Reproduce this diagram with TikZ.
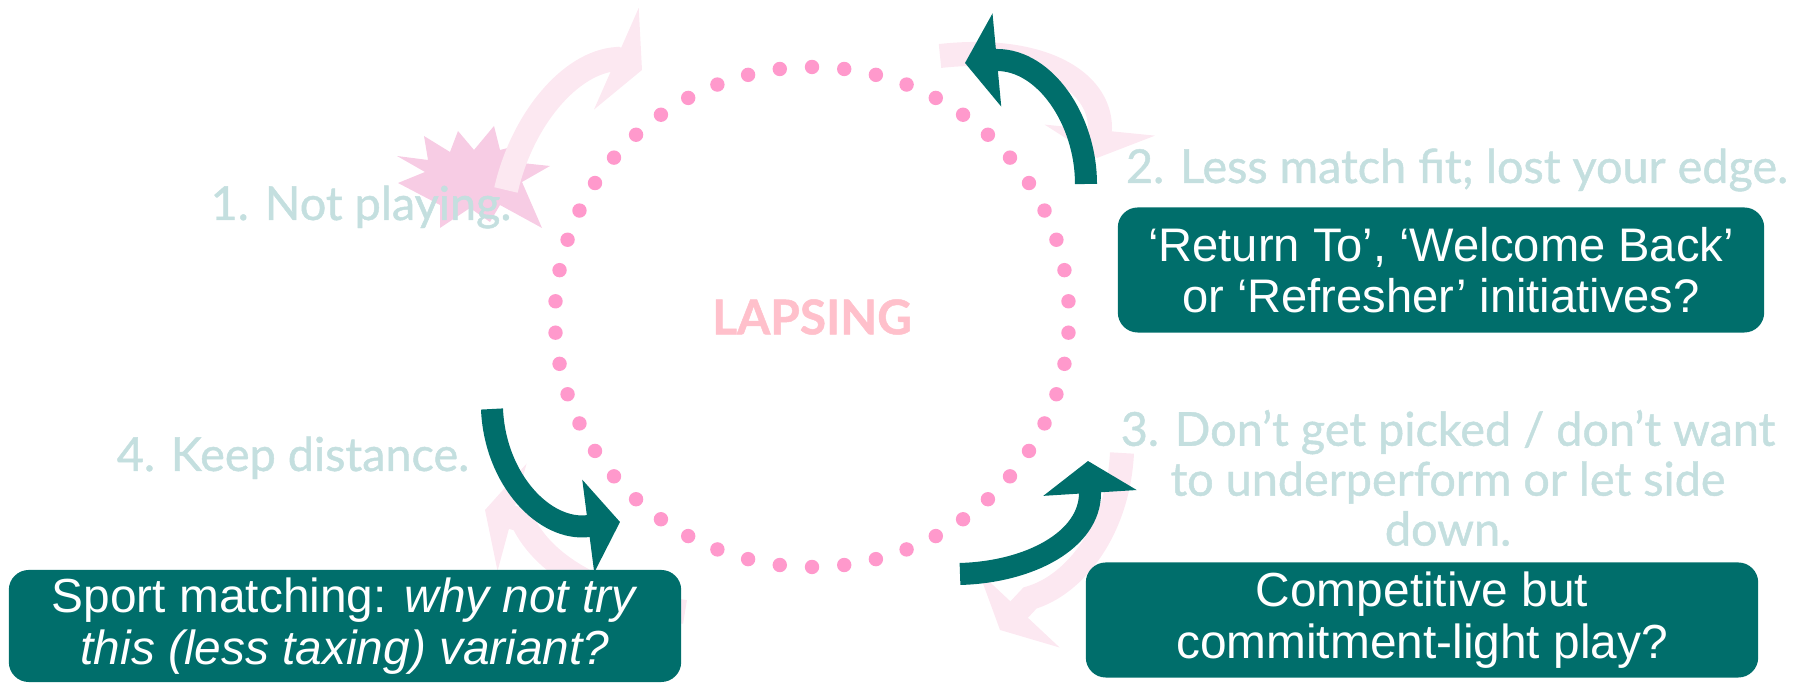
\documentclass[tikz,border=0pt]{standalone}
\usepackage{fontspec}
\setmainfont{Liberation Sans}
\newfontfamily\stagefont[FakeBold=1]{Lato}
\usetikzlibrary{arrows.meta}
\definecolor{lapseteal}{RGB}{0,110,107}
\definecolor{dotpink}{RGB}{255,153,204}
\definecolor{burstpink}{RGB}{247,204,228}
\definecolor{ghostpink}{RGB}{252,232,241}
\definecolor{stagegray}{RGB}{196,223,223}
\definecolor{lapsepink}{RGB}{255,192,203}
\begin{document}
\begin{tikzpicture}[x=0.01cm,y=-0.01cm,
    back/.style={line width=0.22cm,color=lapseteal,-{Triangle[length=0.32cm,width=0.92cm]}},
    ghost/.style={line width=0.24cm,color=ghostpink,-{Triangle[length=0.28cm,width=1.1cm]}},
    box/.style={fill=lapseteal,rounded corners=0.2cm,inner sep=0pt,text=white,align=center,
      font=\fontsize{13.6}{14.6}\selectfont},
    stage/.style={text=stagegray,align=center,font=\stagefont\fontsize{13.3}{14.2}\selectfont}]
    \useasboundingbox (0,0) rectangle (1802,683);

    \fill[burstpink] (397,156) -- (428,160) -- (424,136) -- (450,152) -- (458,131) -- (474,150)
      -- (494,126) -- (500,150) -- (520,145) -- (512,162) -- (550,166) -- (522,182) -- (542,228)
      -- (500,205) -- (490,222) -- (470,208) -- (440,228) -- (440,205) -- (398,183) -- (425,172) -- cycle;

    \coordinate (g1-tail) at (506,190);
    \coordinate (g1-tip) at (642,70);
    \coordinate (g2-tail) at (940,56);
    \coordinate (g2-tip) at (1097,158);
    \coordinate (g3-tail) at (1122,453);
    \coordinate (g3-tip) at (1000,630);
    \coordinate (g4-tail) at (685,612);
    \coordinate (g4-tip) at (485,510);
    \draw[ghost] (g1-tail) .. controls (522,120) and (570,62) .. (617,59) -- (g1-tip);
    \draw[ghost] (g2-tail) .. controls (1040,45) and (1100,80) .. (1100,128) -- (g2-tip);
    \draw[ghost] (g3-tail) .. controls (1118,530) and (1075,585) .. (1030,598) -- (g3-tip);
    \draw[ghost] (g4-tail) .. controls (610,600) and (545,570) .. (522,520) -- (g4-tip);

    \coordinate (lapse) at (812,317);
    \foreach \a in {0,...,49}
      \fill[dotpink] ({812+257*cos(90+7.2*\a)},{317-250*sin(90+7.2*\a)}) circle (0.072cm);

    \node[text=lapsepink,font=\stagefont\bfseries\fontsize{13.6}{16}\selectfont] (lapsing) at (lapse) {LAPSING};

    \node[stage,anchor=base] (notplaying) at (361,220) {1. Not playing.};
    \node[stage,anchor=base] (matchfit) at (1457,183) {2. Less match fit; lost your edge.};
    \node[stage] (picked) at (1448,478) {3. Don’t get picked / don’t want\\ to underperform or let side\\ down.};
    \node[stage,anchor=base] (distance) at (293,471) {4. Keep distance.};

    \coordinate (tr-tail) at (1086,184);
    \coordinate (tr-tip) at (965,63);
    \coordinate (bl-tail) at (492,409);
    \coordinate (bl-tip) at (620,522);
    \coordinate (br-tail) at (960,574);
    \coordinate (br-tip) at (1088,461);
    \draw[back] (tr-tail) .. controls (1086,120) and (1045,60) .. (997,60) -- (tr-tip);
    \draw[back] (bl-tail) .. controls (495,480) and (545,532) .. (589,526) -- (bl-tip);
    \draw[back] (br-tail) .. controls (1030,572) and (1090,540) .. (1090,493) -- (br-tip);

    \node[box,minimum width=6.46cm,minimum height=1.25cm,font=\fontsize{13.4}{14.6}\selectfont] (returnbox) at (1441,270)
      {‘Return To’, ‘Welcome Back’\\ or ‘Refresher’ initiatives?};
    \node[box,minimum width=6.72cm,minimum height=1.15cm] (compbox) at (1422,620)
      {Competitive but\\ commitment-light play?};
    \node[box,minimum width=6.72cm,minimum height=1.12cm] (sportbox) at (345,626)
      {Sport matching: \emph{why not try}\\ \emph{this (less taxing) variant?}};
  \end{tikzpicture}
\end{document}
